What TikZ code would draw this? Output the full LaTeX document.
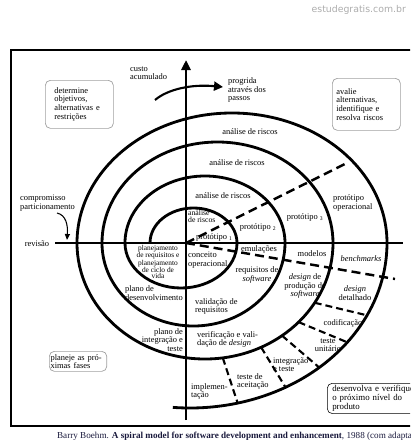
\documentclass[tikz,border=0pt]{standalone}
\usepackage{fontspec}
\setmainfont{Liberation Serif}
\newfontfamily\sitefont{DejaVu Sans}
\usetikzlibrary{arrows.meta,positioning,calc}
\definecolor{boxgray}{RGB}{160,160,160}
\definecolor{captxt}{RGB}{25,25,60}

\begin{document}
\begin{tikzpicture}[x=0.5mm, y=0.5mm,
  lbl/.style={font=\fontsize{12}{12}\selectfont, inner sep=0pt, align=center},
  lbll/.style={lbl, align=left},
  spiral/.style={line width=4pt},
  axis/.style={line width=3.5pt},
  sep/.style={line width=3.5pt, dash pattern=on 4.5mm off 2.5mm},
  tick/.style={line width=3pt, dash pattern=on 3.5mm off 2mm},
  phase/.style={draw=boxgray, line width=1pt, rounded corners=2.5mm, anchor=north west,
    font=\fontsize{12}{12.5}\selectfont, align=left}]
  \useasboundingbox (0,0) rectangle (410,-442);
  \clip (0,0) rectangle (410,-442);

  \draw[line width=2.2pt] (11,-50) rectangle (425,-426);
  \node[font=\sitefont\fontsize{13.3}{13.3}\selectfont, text=gray!65, anchor=east, inner sep=0pt]
    (site) at (406,-10) {estudegratis.com.br};
  \node[anchor=west, inner sep=0pt, font=\fontsize{13}{13}\selectfont, text=captxt]
    (cap) at (57,-436) {Barry Boehm. \textbf{A spiral model for software development and enhancement}, 1988 (com adaptações)};

  \coordinate (O) at (186,-243);
  \draw[axis] (186,-420) -- (186,-70);
  \draw[axis, -{Triangle[length=5mm, width=4.5mm]}] (186,-80) -- (186,-60);
  \draw[axis] (55,-243) -- (403,-243);

  \draw[spiral] (150,-243)
    arc[start angle=180, end angle=0, x radius=43.5, y radius=35]
    arc[start angle=0, end angle=-180, x radius=56, y radius=45]
    arc[start angle=180, end angle=0, x radius=80, y radius=67]
    arc[start angle=0, end angle=-180, x radius=91.5, y radius=83]
    arc[start angle=180, end angle=0, x radius=115.5, y radius=101]
    arc[start angle=0, end angle=-180, x radius=128, y radius=116]
    arc[start angle=180, end angle=0, x radius=155, y radius=130]
    arc[start angle=0, end angle=-95, x radius=197, y radius=165];

  \draw[sep] (O) -- (347,-163);
  \draw[sep] (O) -- (395,-279);
  \foreach \a/\b in {-31/-26, -43/-37, -53/-49, -64/-61, -82/-76}
    \draw[tick] ($(205,-243)+(\a:128 and 116)$) -- ($(190,-243)+(\b:197 and 165)$);

  \node[lbll, anchor=west] (custo) at (130,-73) {custo\\acumulado};
  \coordinate (pgA) at (155,-100);
  \coordinate (pgB) at (223,-87);
  \draw[line width=3pt, -{Triangle[length=4.5mm, width=4.5mm]}]
    (pgA) .. controls (168,-89) and (192,-84) .. (pgB);
  \node[lbll, anchor=west] (prog) at (228,-90) {progrida\\através dos\\passos};

  \node[phase, minimum width=34mm, minimum height=24mm, text width=25mm, inner xsep=4.5mm]
    (obj) at (45,-80) {determine\\objetivos,\\alternativas e\\restrições};
  \node[phase, minimum width=33mm, minimum height=26mm, text width=30mm, inner xsep=2mm]
    (aval) at (332,-78) {avalie\\alternativas,\\identifique e\\resolva riscos};
  \node[phase, minimum width=28.5mm, minimum height=10mm, text width=27.5mm, inner xsep=0.6mm,
    font=\fontsize{12}{8.5}\selectfont] (plan) at (49,-351) {planeje as pró-\\ximas fases};
  \node[phase, draw=black, line width=0.8pt, minimum width=50mm, minimum height=14.5mm,
    text width=46mm, inner xsep=2.5mm, font=\fontsize{12.6}{9}\selectfont]
    (dev) at (327,-383) {desenvolva e verifique\\o próximo nível do\\produto};

  \node[lbll, anchor=west] (comp) at (20,-203) {compromisso\\particionamento};
  \coordinate (cpA) at (57,-213);
  \coordinate (cpB) at (67,-240);
  \draw[line width=1.5pt, -{Triangle[length=3mm, width=2.5mm]}]
    (cpA) .. controls (66,-215) and (68,-225) .. (cpB);
  \node[lbl] (rev) at (37,-244) {revisão};

  \node[lbl] (ar4) at (250,-132) {análise de riscos};
  \node[lbl] (ar3) at (237,-163) {análise de riscos};
  \node[lbl] (ar2) at (223,-196) {análise de riscos};
  \node[lbll, anchor=west, font=\fontsize{11}{9.5}\selectfont] (ar1) at (188,-216.5) {análise\\de riscos};
  \node[lbl, anchor=west] (pr1) at (196,-237.5) {protótipo \textsubscript{1}};
  \node[lbl] (pr2) at (258,-227) {protótipo \textsubscript{2}};
  \node[lbl] (pr3) at (305,-217) {protótipo \textsubscript{3}};
  \node[lbll, anchor=west] (prop) at (333,-203) {protótipo\\operacional};

  \node[lbl] (emu) at (259,-249) {emulações};
  \node[lbl] (mod) at (312,-254) {modelos};
  \node[lbl] (bench) at (361,-259) {\textit{benchmarks}};
  \node[lbll, anchor=west] (conc) at (188,-260) {conceito\\operacional};
  \node[lbl] (reqs) at (257,-275) {requisitos de\\\textit{software}};
  \node[lbl] (dprod) at (305,-286) {\textit{design} de\\produção de\\\textit{software}};
  \node[lbl] (ddet) at (355,-293) {\textit{design}\\detalhado};
  \node[lbl] (cod) at (343,-323) {codificação};
  \node[lbl] (tun) at (328,-345) {teste\\unitário};
  \node[lbll, anchor=west] (integ) at (273,-364.5) {integração\\e teste};
  \node[lbll, anchor=west] (aceit) at (237,-381.5) {teste de\\aceitação};
  \node[lbll, anchor=west] (impl) at (191,-391.5) {implemen-\\tação};
  \node[lbll, anchor=west] (valr) at (195,-306.5) {validação de\\requisitos};
  \node[lbll, anchor=west] (verd) at (197,-339.5) {verificação e vali-\\dação de \textit{design}};

  \node[lbl, font=\fontsize{10.5}{9}\selectfont] (pcv) at (158,-262)
    {planejamento\\de requisitos e\\planejamento\\de ciclo de\\vida};
  \node[lbll, anchor=west] (pdes) at (125,-293) {plano de\\desenvolvimento};
  \node[lbl, anchor=east, align=right] (pint) at (183,-340) {plano de\\integração e\\teste};
\end{tikzpicture}
\end{document}
